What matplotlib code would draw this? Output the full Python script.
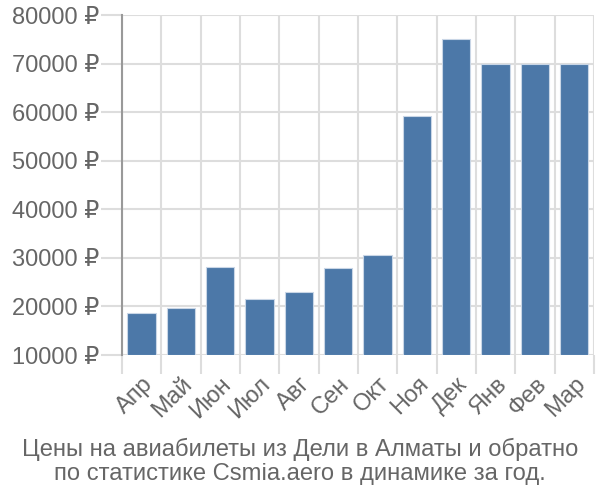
import matplotlib
matplotlib.use("Agg")
import matplotlib.pyplot as plt
from matplotlib.ticker import FuncFormatter, FixedLocator

plt.rcParams['font.family'] = ['Liberation Sans', 'DejaVu Sans']

months = ["Апр", "Май", "Июн", "Июл", "Авг", "Сен", "Окт", "Ноя", "Дек", "Янв", "Фев", "Мар"]
prices = [18650, 19700, 28150, 21500, 23000, 27950, 30550, 59200, 75000, 70000, 70000, 70000]
yticks = [10000, 20000, 30000, 40000, 50000, 60000, 70000, 80000]
caption = "Цены на авиабилеты из Дели в Алматы и обратно\nпо статистике Csmia.aero в динамике за год."

fig = plt.figure(figsize=(6, 5), dpi=100)
ax = fig.add_axes([0.203, 0.29, 0.787, 0.68])

x = list(range(len(months)))
ax.bar(x, [p - 10000 for p in prices], bottom=10000, width=0.72,
       color="#4c78a8", edgecolor="#c9d6e6", linewidth=0.8, zorder=3)

ax.set_xlim(-0.5, len(months) - 0.5)
ax.set_ylim(10000, 80000)
ax.yaxis.set_major_locator(FixedLocator(yticks))
ax.yaxis.set_major_formatter(FuncFormatter(lambda v, p: f"{int(v)} ₽"))
ax.set_xticks(x)
ax.set_xticklabels(months, rotation=45, ha="right", va="top", rotation_mode="anchor")
ax.xaxis.set_minor_locator(FixedLocator([i - 0.5 for i in range(len(months) + 1)]))

ax.grid(False)
for t in yticks:
    ax.axhline(t, color="#dddddd", linewidth=1.5, zorder=1)
for i in range(len(months) + 1):
    ax.axvline(i - 0.5, color="#dddddd", linewidth=1.5, zorder=1)

ax.tick_params(axis="y", which="major", length=15, width=1.5, color="#dddddd",
               labelsize=17, labelcolor="#666666", pad=1)
ax.tick_params(axis="x", which="major", length=0, labelsize=17, labelcolor="#666666", pad=13)
ax.tick_params(axis="x", which="minor", length=14, width=1.5, color="#dddddd")

for s in ["top", "right", "bottom"]:
    ax.spines[s].set_visible(False)
ax.spines["left"].set_color("#999999")
ax.spines["left"].set_linewidth(1.5)
ax.spines["left"].set_bounds(10000, 80000)

fig.text(0.5, 0.077, caption, ha="center", va="center", fontsize=17.1,
         color="#666666", linespacing=1.15)

fig.savefig("out.png", dpi=100)
